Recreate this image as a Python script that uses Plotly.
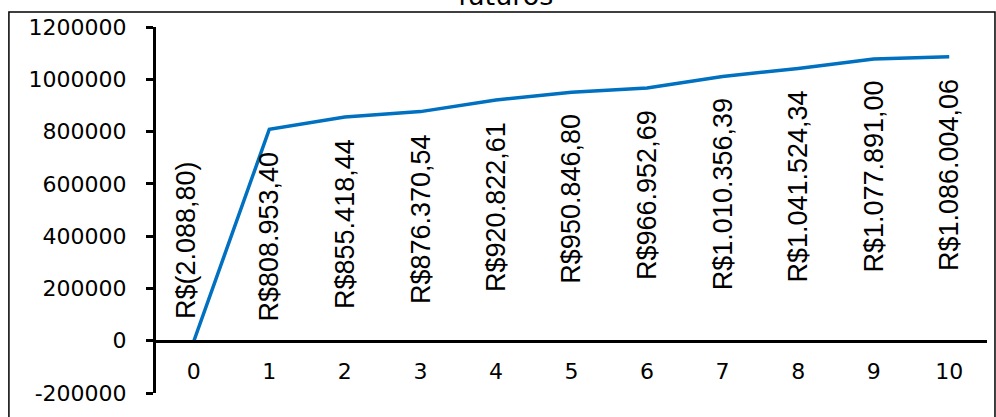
import plotly.graph_objects as go

# Data
periods = [0, 1, 2, 3, 4, 5, 6, 7, 8, 9, 10]
values = [-2088.80, 808953.40, 855418.44, 876370.54, 920822.61, 950846.80,
          966952.69, 1010356.39, 1041524.34, 1077891.00, 1086004.06]
y_ticks = [-200000, 0, 200000, 400000, 600000, 800000, 1000000, 1200000]
title_text = "futuros"


def brl(v):
    s = f"{abs(v):,.2f}"
    s = s.replace(",", "X").replace(".", ",").replace("X", ".")
    return f"R$({s})" if v < 0 else f"R${s}"


fig = go.Figure()
fig.add_trace(go.Scatter(
    x=periods, y=values, mode="lines",
    line=dict(color="#0070C0", width=3.5),
    hoverinfo="skip", showlegend=False,
))

label_font = dict(family="Liberation Sans, Arial", size=27, color="black")
annotations = []
for p, v in zip(periods, values):
    if v < 0:
        annotations.append(dict(x=p, y=v, xref="x", yref="y", text=brl(v),
                                textangle=-90, showarrow=False,
                                xanchor="center", yanchor="bottom",
                                xshift=-8, yshift=20, font=label_font))
    else:
        annotations.append(dict(x=p, y=v, xref="x", yref="y", text=brl(v),
                                textangle=-90, showarrow=False,
                                xanchor="center", yanchor="top",
                                yshift=-20, font=label_font))

annotations.append(dict(x=0.421, y=1.038, xref="paper", yref="paper",
                        text=title_text, showarrow=False,
                        xanchor="center", yanchor="bottom",
                        font=dict(family="DejaVu Sans", size=27, color="black")))

fig.update_layout(
    width=996, height=417,
    margin=dict(l=156, r=9, t=27, b=24),
    paper_bgcolor="white", plot_bgcolor="white",
    annotations=annotations,
    shapes=[dict(type="rect", xref="paper", yref="paper",
                 x0=-0.177, x1=1.0096, y0=-0.2, y1=1.041,
                 line=dict(color="black", width=1.5), fillcolor="rgba(0,0,0,0)",
                 layer="below")],
    xaxis=dict(
        type="linear", range=[-0.5, 10.5],
        tickmode="array", tickvals=periods, ticktext=[str(p) for p in periods],
        showgrid=False, zeroline=False,
        showline=True, linecolor="black", linewidth=3,
        ticks="", anchor="free", position=(393 - 341) / 366,
        ticklabelstandoff=10,
        tickfont=dict(family="DejaVu Sans", size=22, color="black"),
    ),
    yaxis=dict(
        range=[-200000, 1200000],
        tickmode="array", tickvals=y_ticks, ticktext=[str(t) for t in y_ticks],
        showgrid=False, zeroline=False,
        showline=True, linecolor="black", linewidth=3,
        ticks="outside", ticklen=7, tickwidth=3, tickcolor="black",
        ticklabelstandoff=15,
        tickfont=dict(family="DejaVu Sans", size=22, color="black"),
    ),
)

fig.write_html("out.html")
